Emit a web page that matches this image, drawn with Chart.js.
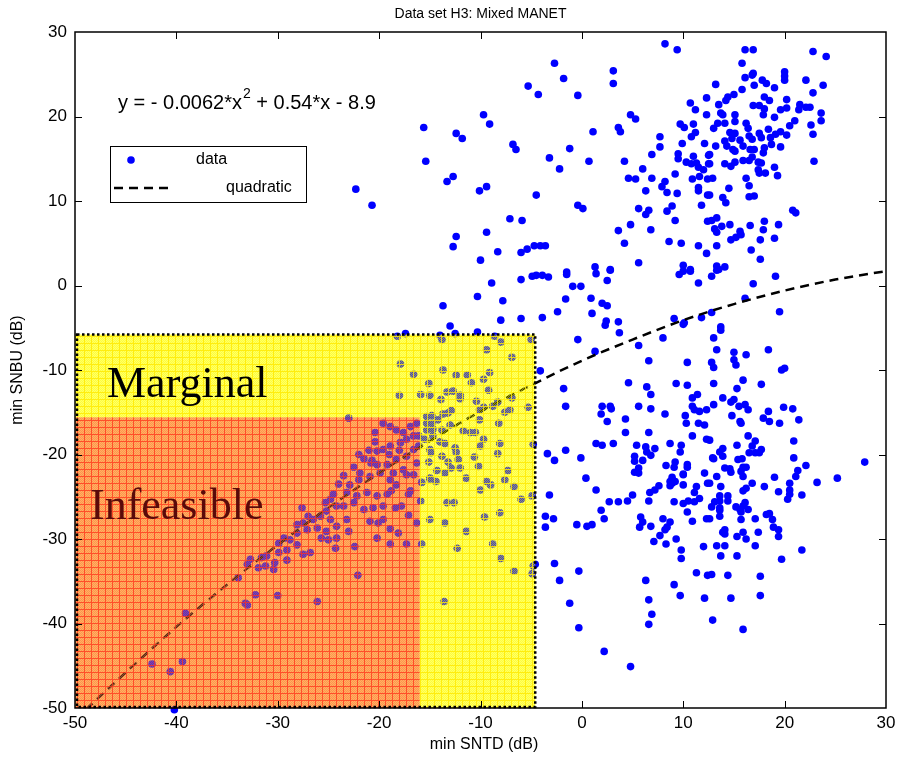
<!DOCTYPE html>
<html>
<head>
<meta charset="utf-8">
<script src="https://cdn.jsdelivr.net/npm/chart.js@4/dist/chart.umd.min.js"></script>
<style>
  html, body { margin: 0; padding: 0; background: #fff; }
  canvas { display: block; }
</style>
</head>
<body>
<canvas id="chart" width="903" height="761"></canvas>
<script>
// Data set H3: Mixed MANET -- min SNTD (x) vs min SNBU (y), dB
const xTicks = [-50, -40, -30, -20, -10, 0, 10, 20, 30];
const yTicks = [-50, -40, -30, -20, -10, 0, 10, 20, 30];

// upper cluster (SNBU above ~ -6 dB)
const upperPts = [
  [-5.3,23.6],[-9.7,20.2],[-9.1,19.1],[-15.6,18.7],[-12.4,18.0],[-11.8,17.4],[-6.8,16.7],[-6.5,16.1],[-15.4,14.7],
  [-12.7,12.9],[-13.3,12.3],[-9.4,11.7],[-10.1,11.2],[-22.3,11.4],[-20.7,9.5],[-7.1,7.9],[-5.9,7.7],[-12.4,5.8],
  [-12.7,4.6],[-9.4,6.3],[-8.3,4.0],[-10.0,3.0],[-6.0,3.9],[-5.4,4.3],
  [8.2,28.6],[9.4,27.9],[-2.7,26.3],[3.1,25.4],[3.1,23.9],[-1.8,24.5],[-4.3,22.6],[-0.4,22.5],[10.7,21.6],[11.2,20.8],
  [12.3,22.2],[12.3,20.2],[4.8,20.2],[5.3,19.7],[1.1,18.2],[3.6,18.7],[3.8,18.2],[9.7,19.1],[10.1,18.7],[11.0,19.1],
  [11.2,18.1],[10.8,17.6],[7.7,17.6],[7.7,16.4],[9.9,16.8],[12.1,16.8],[-1.2,16.2],[-3.2,15.1],[0.7,14.7],[4.2,14.7],
  [6.9,15.5],[9.5,15.6],[9.5,15.0],[-2.2,13.8],[6.0,13.8],[10.3,14.6],[11.0,15.3],[11.3,14.5],[10.8,14.4],[11.5,14.0],
  [12.0,13.7],[12.5,14.4],[12.5,15.4],[9.2,13.2],[4.6,12.7],[5.3,12.6],[6.9,12.7],[8.2,12.3],[7.9,11.7],[8.4,11.0],
  [9.4,10.9],[6.3,11.2],[10.9,12.6],[11.6,12.9],[12.4,12.6],[11.5,11.6],[11.5,11.2],[12.4,10.7],[-4.5,10.7],[-0.4,9.5],
  [0.1,9.1],[5.6,9.1],[6.6,8.9],[6.3,8.4],[8.9,9.4],[8.4,8.8],[11.8,9.5],[9.2,7.7],[12.4,7.6],[4.8,7.2],[3.6,6.5],
  [6.8,6.6],[4.2,5.0],[8.6,5.2],[9.8,5.0],[11.5,4.7],[12.3,3.8],[-4.7,4.7],[-4.1,4.7],[-3.6,4.7],[1.3,2.2],[2.8,1.9],
  [5.6,2.7],[10.0,2.4],[10.7,1.9],[-1.5,1.6],
  [16.1,27.9],[16.9,27.9],[22.8,27.7],[24.1,27.1],[15.8,26.3],[20.0,25.3],[20.0,24.8],[20.0,24.3],[16.1,24.6],[16.8,24.9],
  [16.9,25.1],[17.8,24.3],[18.2,23.9],[17.0,23.7],[19.0,23.4],[13.2,23.8],[15.8,23.2],[22.1,24.3],[23.8,23.7],[22.8,22.8],
  [15.0,22.6],[14.4,22.3],[14.2,21.9],[13.5,21.4],[18.0,22.3],[18.5,21.9],[20.2,22.0],[16.9,21.3],[17.5,21.3],[18.0,20.9],
  [17.9,20.2],[19.6,20.8],[20.2,21.0],[21.5,21.4],[21.4,20.8],[22.1,21.1],[22.5,21.1],[23.6,20.4],[13.7,20.4],[13.9,20.2],
  [15.1,20.2],[19.0,19.9],[15.1,19.4],[16.2,19.2],[13.4,19.2],[14.1,19.2],[13.0,18.6],[16.4,18.6],[21.0,19.5],[20.5,18.9],
  [23.6,19.5],[22.6,19.0],[22.8,17.9],[18.4,18.5],[19.6,18.2],[20.2,17.8],[19.1,17.9],[14.6,18.1],[15.1,18.0],[14.1,17.1],
  [14.8,17.4],[15.6,17.2],[16.5,17.7],[16.8,17.3],[17.5,18.0],[17.7,17.5],[18.6,17.5],[18.7,16.7],[19.6,16.4],[15.9,16.5],
  [14.3,16.5],[13.2,16.5],[14.9,16.1],[15.1,15.9],[16.6,16.1],[17.0,16.1],[18.0,16.3],[17.9,15.7],[12.6,15.5],[22.9,14.7],
  [14.1,14.4],[14.7,14.1],[15.1,14.6],[15.9,14.8],[16.5,14.8],[16.8,15.2],[17.4,14.6],[17.7,14.5],[17.4,13.7],[17.5,13.3],
  [18.1,13.3],[19.0,14.0],[19.3,13.0],[12.6,14.4],[12.9,12.7],[16.2,12.7],[16.5,11.8],[14.5,11.5],[12.6,10.7],[13.9,10.4],
  [14.2,9.8],[16.5,10.5],[17.0,10.6],[20.8,8.9],[21.1,8.6],[12.8,7.7],[13.3,8.0],[13.1,6.7],[13.3,6.3],[13.8,7.0],
  [14.6,7.2],[16.6,7.1],[18.0,7.6],[17.9,6.6],[19.4,7.2],[15.6,6.4],[15.7,6.0],[15.2,5.7],[14.7,5.4],[17.6,5.4],
  [19.0,5.6],[13.3,4.7],[16.7,4.2],[17.6,3.1],[13.3,2.3],[14.1,2.2],[13.5,1.9],
  [12.8,1.1],[13.3,1.8],[19.1,1.1],[16.9,0.2],[16.1,-1.5],[12.8,-3.2],[19.5,-3.1],
  [-3.9,1.2],[-3.3,1.0],[-1.5,1.3],[1.4,1.4],[2.8,1.8],[2.5,0.6],[-0.9,-0.1],[-0.1,-0.1],[-1.6,-1.6],[0.9,-1.5],
  [2.0,-2.1],[2.5,-2.4],[-2.4,-3.1],[1.0,-3.3],[-3.9,-3.8],[2.4,-4.2],[2.3,-4.7],[3.6,-4.3],[3.7,-5.6],[9.1,-3.9],
  [10.0,-4.6],[10.1,-4.4],[9.6,1.3],[10.0,1.7],[10.7,1.7],[11.5,0.3],[11.8,-3.8],
  [-13.7,-2.4],[-10.3,-1.3],[-8.9,0.3],[-7.8,-1.8],[-6.0,0.7],[-4.9,1.1],[-4.5,1.2],[-13.0,-4.8],[-8.0,-4.1],[-6.0,-3.9],
  [-17.4,-5.7],[-12.5,-5.7],[-10.3,-5.5]
];

// lower cluster (right of the marginal box)
const lowerPts = [
  [-0.4,-6.4],[1.3,-7.8],[5.6,-7.1],[8.0,-6.2],[6.6,-8.9],[10.4,-9.1],[-4.1,-10.1],[-1.8,-12.2],[-1.6,-14.3],[4.6,-11.5],
  [6.4,-12.0],[6.8,-12.9],[9.3,-11.6],[10.4,-11.8],[11.4,-12.9],[10.9,-13.3],[2.0,-14.3],[2.8,-14.3],[2.9,-14.6],[1.9,-15.2],
  [5.6,-14.3],[6.8,-14.6],[8.2,-15.2],[2.5,-16.1],[4.3,-15.8],[10.2,-15.4],[10.3,-16.3],[10.9,-14.3],[11.1,-14.7],[11.6,-14.9],
  [12.3,-14.7],[11.5,-16.3],[12.1,-16.5],[4.3,-17.4],[6.6,-17.4],[10.9,-17.8],[12.3,-18.2],[1.4,-18.7],[2.0,-18.9],[3.1,-18.7],
  [5.4,-18.9],[6.3,-19.1],[6.4,-19.7],[6.8,-20.1],[7.2,-19.3],[8.7,-18.7],[9.8,-18.9],[9.7,-19.7],[-3.4,-19.9],[-1.6,-19.5],
  [-2.7,-20.7],[-0.1,-20.4],[5.2,-20.2],[5.2,-20.8],[6.0,-20.7],[8.3,-21.3],[9.2,-20.9],[9.1,-21.5],[10.4,-21.2],[10.4,-21.5],
  [5.6,-21.6],[5.2,-22.1],[5.6,-22.2],[10.0,-22.3],[12.1,-22.2],[0.4,-22.8],[8.9,-22.7],
  [13.7,-4.9],[13.7,-5.3],[13.0,-6.2],[13.3,-7.6],[15.0,-7.9],[16.2,-8.2],[18.4,-7.6],[15.0,-8.8],[15.2,-9.4],[12.8,-9.1],
  [13.0,-9.7],[19.7,-10.0],[20.0,-9.8],[15.9,-11.2],[13.0,-11.6],[15.3,-12.2],[17.7,-11.7],[13.9,-13.3],[15.0,-13.5],[14.7,-13.8],
  [15.5,-14.3],[16.1,-14.1],[16.4,-14.7],[13.0,-14.1],[19.9,-14.4],[20.8,-14.6],[14.8,-15.4],[18.4,-14.9],[17.9,-15.7],[18.5,-16.1],
  [19.5,-16.3],[21.4,-15.9],[15.6,-16.1],[15.7,-16.3],[16.4,-17.8],[17.1,-18.4],[16.8,-19.0],[15.3,-18.9],[20.9,-18.4],[13.9,-19.3],
  [13.6,-19.7],[16.5,-19.8],[17.1,-19.8],[17.7,-19.4],[17.5,-19.8],[12.6,-18.3],[12.9,-20.4],[13.0,-20.5],[13.9,-20.2],[20.9,-20.4],
  [15.4,-20.6],[15.8,-20.5],[27.9,-20.9],[22.1,-21.3],[14.1,-21.6],[14.6,-21.7],[14.7,-22.1],[15.9,-21.5],[16.2,-21.5],[15.7,-22.0],
  [21.3,-21.9],[21.1,-22.6],[19.0,-22.7],[25.2,-22.8],[13.3,-22.6],[15.9,-22.6],
  [23.2,-23.3],[16.8,-23.4],[18.0,-23.8],[20.5,-23.4],[20.5,-24.2],[20.5,-24.7],[20.3,-25.3],[19.4,-24.4],[21.7,-24.8],[13.7,-23.8],
  [12.6,-23.4],[15.9,-24.3],[16.2,-24.0],[13.6,-24.9],[14.4,-24.9],[14.4,-25.5],[13.6,-25.5],[13.1,-25.6],[12.8,-26.2],[13.6,-26.3],
  [13.6,-26.6],[15.2,-26.2],[15.6,-26.5],[15.9,-26.1],[16.1,-25.7],[16.4,-26.5],[15.7,-26.8],[13.6,-27.3],[12.6,-27.6],[15.7,-27.7],
  [17.1,-27.6],[18.2,-27.1],[18.5,-27.0],[18.8,-27.7],[14.1,-28.9],[13.9,-29.2],[14.1,-29.4],[15.9,-29.2],[16.2,-30.0],[15.3,-29.7],
  [17.4,-29.2],[18.9,-28.6],[19.4,-28.9],[19.4,-29.7],[13.3,-30.8],[14.1,-30.8],[17.1,-30.8],[21.7,-31.3],[13.7,-32.0],[15.3,-32.0],
  [19.7,-32.4],[12.8,-34.2],[14.4,-34.3],[17.6,-34.4],[14.7,-37.0],[17.6,-36.7],[12.9,-39.6],[15.9,-40.7],
  [-3.2,-24.8],[1.4,-24.2],[2.7,-25.6],[3.6,-25.6],[4.5,-25.5],[5.0,-24.8],[6.6,-25.5],[6.7,-24.5],[7.2,-24.2],[7.6,-23.7],
  [8.7,-23.7],[9.2,-23.2],[8.9,-23.4],[8.7,-23.2],[10.0,-22.4],[10.0,-23.6],[9.1,-25.6],[10.0,-25.8],[10.5,-25.5],[11.1,-25.6],
  [11.6,-25.2],[11.3,-23.8],[11.1,-24.5],[12.4,-23.4],[1.9,-26.6],[2.2,-27.6],[-3.6,-27.3],[-2.8,-27.6],[-3.6,-28.6],[-0.5,-28.3],
  [0.5,-28.5],[1.0,-28.3],[5.8,-27.4],[6.0,-28.0],[5.7,-28.6],[6.8,-28.5],[8.0,-27.6],[8.7,-28.0],[8.4,-28.6],[8.2,-28.9],
  [7.7,-29.6],[7.1,-30.3],[8.3,-30.6],[9.3,-30.0],[9.8,-31.3],[9.8,-32.3],[10.4,-26.8],[10.9,-27.9],[12.3,-27.6],[12.0,-30.9],
  [-2.7,-32.9],[-2.2,-34.9],[-0.3,-33.8],[-1.2,-37.6],[-0.3,-40.5],[2.2,-43.3],[4.8,-45.1],[6.3,-34.9],[6.6,-37.2],[6.9,-38.9],
  [6.6,-40.1],[9.1,-35.4],[9.7,-36.7],[11.3,-34.0],[12.4,-34.3],[12.1,-37.0],
  [-4.9,-24.9],[-4.8,-33.2],[-4.6,-33.0],[-4.9,-34.1]
];

// points inside the "Marginal" region
const marginalPts = [
  [-18.2,-6.0],[-14.0,-5.9],[-13.8,-6.4],[-8.6,-6.0],[-8.0,-6.7],[-5.0,-6.4],[-9.4,-7.6],[-6.9,-8.5],[-17.9,-9.3],[-16.6,-10.5],
  [-13.7,-10.0],[-12.4,-10.6],[-11.3,-10.6],[-9.1,-10.3],[-9.7,-11.1],[-15.1,-11.6],[-10.9,-11.5],[-9.2,-12.4],[-18.0,-13.0],[-15.9,-12.9],
  [-15.0,-13.0],[-13.3,-12.6],[-12.7,-12.5],[-12.0,-13.0],[-12.0,-13.4],[-13.9,-13.5],[-10.4,-13.7],[-8.3,-13.8],[-8.8,-14.3],[-9.7,-14.4],
  [-10.1,-14.7],[-6.9,-13.3],[-5.3,-14.4],[-7.6,-15.0],[-7.1,-14.7],[-15.3,-15.5],[-14.8,-15.4],[-13.7,-15.2],[-13.2,-15.1],[-12.9,-14.8],
  [-15.3,-16.3],[-14.8,-16.3],[-14.2,-15.9],[-15.3,-17.1],[-14.7,-17.0],[-13.8,-17.1],[-14.7,-17.8],[-15.5,-18.2],[-13.0,-16.5],[-10.1,-15.9],
  [-8.2,-16.3],[-11.7,-17.2],[-11.0,-17.4],[-10.5,-17.4],[-10.0,-19.0],[-9.7,-18.2],[-8.1,-18.7],[-4.8,-18.8],[-15.0,-19.4],[-14.9,-19.8],
  [-15.1,-20.9],[-14.0,-18.5],[-13.5,-18.7],[-12.5,-19.2],[-12.4,-19.7],[-12.2,-20.6],[-13.2,-20.9],[-13.8,-20.2],[-10.6,-20.3],[-8.3,-19.9],
  [-10.2,-21.4],[-12.0,-21.6],[-12.9,-21.6],[-13.5,-22.2],[-14.3,-21.9],[-7.3,-21.9],[-15.0,-22.8],[-11.4,-22.8],[-7.6,-23.0],
  [-15.0,-22.9],[-14.4,-23.2],[-9.4,-23.2],[-9.0,-23.6],[-6.7,-23.8],[-10.0,-24.2],[-15.8,-23.3],[-15.9,-25.5],[-13.3,-25.7],[-12.6,-25.7],
  [-6.0,-25.3],[-8.1,-26.9],[-9.6,-27.4],[-15.0,-27.7],[-13.5,-28.1],[-11.4,-29.1],[-8.8,-30.6],[-12.3,-31.1],[-15.8,-30.6],[-8.0,-32.3],
  [-6.7,-33.8],[-13.6,-37.4]
];

// points inside the "Infeasible" region
const infeasiblePts = [
  [-23.0,-15.7],[-20.4,-17.4],[-20.4,-18.5],[-20.2,-19.6],[-20.7,-20.7],[-20.2,-21.2],
  [-19.6,-16.3],[-18.9,-16.7],[-18.3,-17.1],[-17.6,-17.4],[-16.9,-16.7],[-16.3,-16.3],[-17.3,-18.2],[-16.6,-17.8],[-17.9,-18.6],
  [-18.9,-19.0],[-19.6,-19.4],[-16.6,-19.4],[-17.3,-20.2],[-18.3,-20.6],[-19.2,-21.2],[-16.3,-21.0],[-17.6,-21.8],[-18.6,-22.2],
  [-16.6,-22.4],[-16.1,-17.8],[-16.1,-19.0],
  [-21.5,-20.5],[-22.5,-21.5],[-23.5,-22.5],[-21.0,-19.5],[-22.0,-20.0],[-20.8,-21.0],[-19.0,-20.0],[-18.0,-19.5],[-24.0,-23.5],[-22.0,-23.0],
  [-22.9,-23.6],[-21.9,-22.2],[-20.9,-22.6],[-19.9,-22.2],[-18.9,-23.0],[-18.3,-23.6],[-17.3,-22.4],[-23.2,-24.5],[-22.2,-24.9],
  [-21.2,-24.5],[-20.2,-24.9],[-19.2,-24.7],[-18.8,-24.3],[-17.1,-24.7],[-16.9,-24.3],[-23.5,-26.1],[-22.5,-25.7],[-21.5,-26.5],
  [-20.6,-26.3],[-19.6,-26.1],[-18.4,-26.3],[-17.8,-26.1],[-23.2,-27.7],[-20.9,-27.9],[-20.1,-28.1],[-19.6,-27.7],[-17.1,-27.2],
  [-16.3,-28.1],[-23.0,-29.1],[-18.9,-28.8],[-18.1,-29.3],[-20.2,-29.9],[-17.3,-30.6],[-18.9,-30.6],[-22.4,-30.9],[-22.1,-34.3],
  [-24.8,-25.3],[-25.3,-25.7],[-24.5,-24.7],[-24.2,-26.1],[-25.2,-26.7],[-25.8,-27.3],[-26.5,-27.7],[-27.0,-27.3],[-24.8,-27.7],
  [-27.5,-28.1],[-28.1,-28.3],[-27.1,-28.9],[-26.1,-28.7],[-25.2,-29.1],[-24.2,-28.5],[-25.7,-29.9],[-25.0,-30.1],[-24.2,-29.9],
  [-24.3,-31.1],[-28.1,-29.3],[-28.8,-30.1],[-29.4,-29.9],[-29.9,-30.5],[-28.1,-30.7],[-27.5,-31.8],[-26.8,-31.6],[-29.1,-31.3],
  [-29.9,-31.6],[-31.1,-32.0],[-31.6,-32.2],[-32.7,-32.4],[-33.0,-33.0],[-31.9,-33.4],[-31.2,-33.2],[-30.3,-32.8],[-29.1,-32.5],
  [-30.4,-33.6],[-33.9,-34.6],[-32.2,-36.6],[-30.0,-36.7],[-33.2,-37.6],[-33.0,-37.8],[-26.1,-37.4],[-39.1,-38.8],[-42.4,-44.8],
  [-40.6,-45.7],[-39.4,-44.5],[-27.6,-26.3],[-40.2,-50.2]
];

// quadratic fit
const fitX = [-50, -45, -40, -35, -30, -25, -20, -15, -10, -5, 0, 5, 10, 15, 20, 25, 30];
const fitY = [-51.4, -45.8, -40.4, -35.4, -30.7, -26.3, -22.2, -18.4, -14.9, -11.8, -8.9, -6.4, -4.1, -2.2, -0.6, 0.7, 1.7];

// shaded regions: [xmin, xmax], [ymin, ymax]
const marginalX = [-50, -4.6];
const marginalY = [-50, -5.8];
const infeasibleX = [-50, -16];
const infeasibleY = [-50, -15.6];

const FONT = "'Liberation Sans', Arial, sans-serif";

function makePattern(lineCol, onCol, offCol) {
  const c = document.createElement("canvas");
  c.width = 7; c.height = 7;
  const g = c.getContext("2d");
  for (let i = 0; i < 7; i++) {
    for (let j = 0; j < 7; j++) {
      g.fillStyle = (i === 0 || j === 0) ? lineCol : ((i + j) % 2 === 0 ? onCol : offCol);
      g.fillRect(i, j, 1, 1);
    }
  }
  return g.createPattern(c, "repeat");
}

const frame = document.getElementById("chart").getContext("2d");
const yellowPat = makePattern("rgba(255,235,0,0.9)", "rgba(255,255,0,0.6)", "rgba(255,255,0,0.25)");
const redPat = makePattern("rgba(255,60,30,0.85)", "rgba(255,120,60,0.6)", "rgba(255,150,90,0.3)");

const regionsPlugin = {
  id: "regions",
  beforeDatasetsDraw(chart) {
    // pale wash under the marks so the regions read as solid colour
    const { ctx, scales: { x, y } } = chart;
    const X = v => x.getPixelForValue(v), Y = v => y.getPixelForValue(v);
    ctx.save();
    ctx.fillStyle = "rgba(255,255,0,0.45)";
    ctx.fillRect(X(marginalX[0]), Y(marginalY[1]), X(marginalX[1]) - X(marginalX[0]), Y(marginalY[0]) - Y(marginalY[1]));
    ctx.fillStyle = "rgba(255,110,60,0.45)";
    ctx.fillRect(X(infeasibleX[0]), Y(infeasibleY[1]), X(infeasibleX[1]) - X(infeasibleX[0]), Y(infeasibleY[0]) - Y(infeasibleY[1]));
    ctx.restore();
  },
  afterDatasetsDraw(chart) {
    const { ctx, scales: { x, y } } = chart;
    const X = v => x.getPixelForValue(v), Y = v => y.getPixelForValue(v);
    ctx.save();
    ctx.beginPath();
    ctx.rect(chart.chartArea.left, chart.chartArea.top, chart.chartArea.width, chart.chartArea.height);
    ctx.clip();
    // yellow L around the red block
    ctx.fillStyle = yellowPat;
    ctx.fillRect(X(marginalX[0]), Y(marginalY[1]), X(marginalX[1]) - X(marginalX[0]), Y(infeasibleY[1]) - Y(marginalY[1]));
    ctx.fillRect(X(infeasibleX[1]), Y(infeasibleY[1]), X(marginalX[1]) - X(infeasibleX[1]), Y(marginalY[0]) - Y(infeasibleY[1]));
    ctx.fillStyle = redPat;
    ctx.fillRect(X(infeasibleX[0]), Y(infeasibleY[1]), X(infeasibleX[1]) - X(infeasibleX[0]), Y(infeasibleY[0]) - Y(infeasibleY[1]));
    ctx.restore();

    ctx.save();
    ctx.strokeStyle = "#000";
    ctx.lineWidth = 2.5;
    ctx.setLineDash([2.5, 2.5]);
    ctx.strokeRect(X(marginalX[0]) + 2, Y(marginalY[1]), X(marginalX[1]) - X(marginalX[0]) - 2, Y(marginalY[0]) - Y(marginalY[1]) - 1);
    ctx.setLineDash([]);

    ctx.font = "44px 'Liberation Serif', 'Times New Roman', serif";
    ctx.textBaseline = "alphabetic";
    ctx.fillStyle = "#000";
    ctx.fillText("Marginal", 107, 397);
    ctx.fillStyle = "#5a0a0a";
    ctx.fillText("Infeasible", 90, 519);
    ctx.restore();
  },
  afterDraw(chart) {
    const { ctx, chartArea: a, scales: { x, y } } = chart;
    ctx.save();
    // box and inward ticks
    ctx.strokeStyle = "#000";
    ctx.lineWidth = 1.5;
    ctx.strokeRect(a.left, a.top, a.width, a.height);
    ctx.lineWidth = 1;
    ctx.beginPath();
    xTicks.slice(1, -1).forEach(v => {
      const p = Math.round(x.getPixelForValue(v)) + 0.5;
      ctx.moveTo(p, a.bottom); ctx.lineTo(p, a.bottom - 7);
      ctx.moveTo(p, a.top); ctx.lineTo(p, a.top + 7);
    });
    yTicks.slice(1, -1).forEach(v => {
      const p = Math.round(y.getPixelForValue(v)) + 0.5;
      ctx.moveTo(a.left, p); ctx.lineTo(a.left + 7, p);
      ctx.moveTo(a.right, p); ctx.lineTo(a.right - 7, p);
    });
    ctx.stroke();

    // title and axis labels
    ctx.fillStyle = "#000";
    ctx.textAlign = "center";
    ctx.textBaseline = "middle";
    ctx.font = "14px " + FONT;
    ctx.fillText("Data set H3: Mixed MANET", (a.left + a.right) / 2, 14);
    ctx.font = "16px " + FONT;
    ctx.fillText("min SNTD (dB)", 484, 745);
    ctx.save();
    ctx.translate(18, (a.top + a.bottom) / 2);
    ctx.rotate(-Math.PI / 2);
    ctx.fillText("min SNBU (dB)", 0, 0);
    ctx.restore();

    // fit equation
    ctx.textAlign = "left";
    ctx.textBaseline = "alphabetic";
    ctx.font = "20px " + FONT;
    let tx = 118;
    const part1 = "y = - 0.0062*x";
    ctx.fillText(part1, tx, 109);
    tx += ctx.measureText(part1).width + 1;
    ctx.font = "14px " + FONT;
    ctx.fillText("2", tx, 98);
    tx += ctx.measureText("2").width;
    ctx.font = "20px " + FONT;
    ctx.fillText(" + 0.54*x - 8.9", tx, 109);

    // legend
    ctx.fillStyle = "#fff";
    ctx.fillRect(110, 146, 196, 56);
    ctx.strokeStyle = "#000";
    ctx.lineWidth = 1;
    ctx.strokeRect(110.5, 146.5, 196, 56);
    ctx.fillStyle = "#0000ff";
    ctx.beginPath();
    ctx.arc(131, 160, 3.8, 0, Math.PI * 2);
    ctx.fill();
    ctx.strokeStyle = "#000";
    ctx.lineWidth = 2.5;
    ctx.setLineDash([9, 6]);
    ctx.beginPath();
    ctx.moveTo(114, 188); ctx.lineTo(168, 188);
    ctx.stroke();
    ctx.setLineDash([]);
    ctx.fillStyle = "#000";
    ctx.font = "16px " + FONT;
    ctx.textBaseline = "middle";
    ctx.fillText("data", 196, 160);
    ctx.fillText("quadratic", 226, 188);
    ctx.restore();
  }
};

const toXY = arr => arr.map(([a, b]) => ({ x: a, y: b }));

new Chart(frame, {
  type: "scatter",
  data: {
    datasets: [
      {
        label: "data",
        data: toXY([...upperPts, ...lowerPts, ...marginalPts, ...infeasiblePts]),
        backgroundColor: "#0000ff",
        borderWidth: 0,
        pointRadius: 3.8,
        pointHoverRadius: 3.8,
        clip: false,
        order: 2
      },
      {
        type: "line",
        label: "quadratic",
        data: fitX.map((v, i) => ({ x: v, y: fitY[i] })),
        borderColor: "#000",
        borderWidth: 2.5,
        borderDash: [9, 6],
        pointRadius: 0,
        fill: false,
        cubicInterpolationMode: "monotone",
        order: 1
      }
    ]
  },
  options: {
    responsive: false,
    devicePixelRatio: 1,
    animation: false,
    events: [],
    layout: { padding: { top: 32, right: 17, left: 0, bottom: 0 } },
    plugins: { legend: { display: false }, tooltip: { enabled: false }, title: { display: false } },
    scales: {
      x: {
        type: "linear",
        min: -50, max: 30,
        afterBuildTicks: s => { s.ticks = xTicks.map(v => ({ value: v })); },
        afterFit: s => { s.height = 53; },
        grid: { display: false, drawTicks: false },
        border: { display: false },
        ticks: { padding: 5, color: "#000", font: { family: FONT, size: 17 }, maxRotation: 0 }
      },
      y: {
        type: "linear",
        min: -50, max: 30,
        afterBuildTicks: s => { s.ticks = yTicks.map(v => ({ value: v })); },
        afterFit: s => { s.width = 75; },
        grid: { display: false, drawTicks: false },
        border: { display: false },
        ticks: { padding: 8, color: "#000", font: { family: FONT, size: 17 } }
      }
    }
  },
  plugins: [regionsPlugin]
});
</script>
</body>
</html>
